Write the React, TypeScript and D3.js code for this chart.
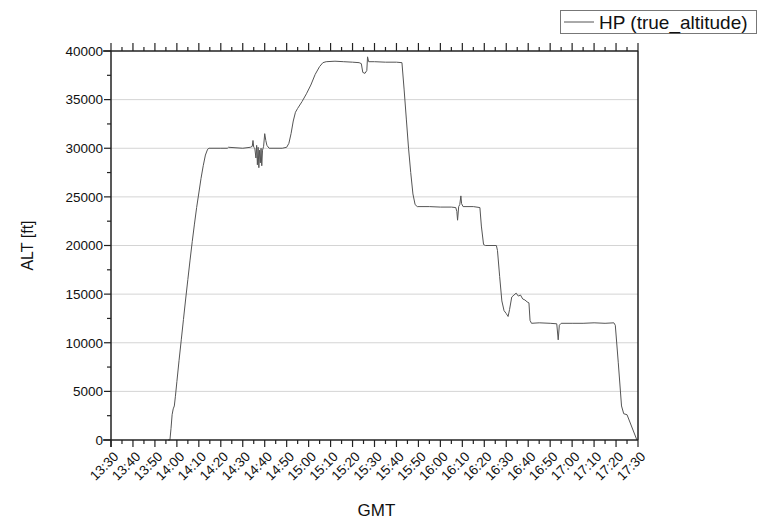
import React from "react";
import * as d3 from "d3";

const gmt: string[] = [
  "13:56:00","13:56:50","13:57:20","13:57:50","13:58:20","13:58:50","13:59:20","14:00:00","14:01:00","14:02:00",
  "14:03:00","14:04:00","14:05:00","14:06:00","14:07:00","14:08:00","14:09:00","14:10:00","14:11:00","14:12:00",
  "14:13:00","14:14:00","14:14:40","14:20:00","14:23:00","14:23:30","14:30:00","14:33:30","14:34:20","14:34:40",
  "14:35:00","14:35:30","14:36:00","14:36:20","14:36:40","14:37:00","14:37:20","14:37:40","14:38:00","14:38:20",
  "14:38:40","14:39:00","14:39:30","14:40:00","14:40:30","14:41:00","14:42:00","14:48:00","14:50:00","14:51:00",
  "14:52:00","14:53:00","14:54:00","14:55:00","14:57:00","14:59:00","15:01:00","15:03:00","15:05:00","15:06:30",
  "15:08:00","15:12:00","15:16:00","15:20:00","15:23:00","15:24:00","15:24:40","15:25:40","15:26:30","15:26:50",
  "15:27:20","15:30:00","15:35:00","15:40:00","15:42:30","15:43:30","15:44:30","15:45:30","15:46:30","15:47:30",
  "15:48:30","15:49:30","15:55:00","16:00:00","16:05:00","16:07:00","16:07:30","16:07:50","16:08:20","16:08:50",
  "16:09:20","16:09:40","16:10:20","16:15:00","16:18:00","16:18:40","16:19:40","16:20:30","16:25:30","16:26:00",
  "16:27:00","16:28:00","16:29:00","16:30:00","16:30:50","16:31:30","16:32:30","16:33:30","16:34:30","16:35:30",
  "16:36:30","16:37:30","16:38:30","16:39:30","16:40:20","16:40:50","16:41:30","16:45:00","16:50:00","16:53:00",
  "16:53:40","16:54:10","16:55:00","17:00:00","17:05:00","17:10:00","17:15:00","17:19:00","17:19:40","17:21:00",
  "17:22:30","17:23:30","17:25:00","17:29:30"
];

const trueAltitude: number[] = [
  0,0,1200,2600,3200,3500,4500,6000,8200,10300,
  12400,14500,16500,18500,20400,22200,23900,25400,26900,28200,
  29300,29900,30000,30000,30000,30100,30000,30100,30200,30800,
  30100,30000,29000,30300,28300,30100,28000,29800,28500,30000,
  28200,29800,30200,31500,30800,30300,30000,30000,30100,30500,
  31500,32800,33700,34100,34800,35600,36500,37600,38400,38800,
  38900,38950,38900,38850,38800,38700,37800,37700,38000,39400,
  38900,38900,38850,38850,38800,36000,33000,30000,27500,25300,
  24200,24000,24000,23950,23950,23900,23500,22600,24000,24200,
  25100,24300,24000,24000,23900,22000,20100,20000,20000,19500,
  16800,14300,13300,13000,12700,13400,14700,14900,15100,14800,
  14900,14500,14400,14200,14100,12300,12000,12050,12000,11950,
  10300,11800,12000,12000,12000,12050,12000,12050,11800,8000,
  3500,2700,2600,0
];

const xTickLabels: string[] = [
  "13:30","13:40","13:50","14:00","14:10","14:20","14:30","14:40","14:50","15:00","15:10","15:20","15:30",
  "15:40","15:50","16:00","16:10","16:20","16:30","16:40","16:50","17:00","17:10","17:20","17:30"
];

const yTicks: number[] = [0, 5000, 10000, 15000, 20000, 25000, 30000, 35000, 40000];

const seriesName = "HP (true_altitude)";

const parse = d3.timeParse("%H:%M:%S");
const parseHM = d3.timeParse("%H:%M");

export default function App() {
  const W = 759, H = 522;
  const left = 111, right = 638, top = 51, bottom = 440;
  const font = "Liberation Sans, Arial, sans-serif";

  const x = d3.scaleTime()
    .domain([parseHM("13:30") as Date, parseHM("17:30") as Date])
    .range([left, right]);
  const y = d3.scaleLinear().domain([0, 40000]).range([bottom, top]);

  const data = gmt.map((t, i) => ({ t: parse(t) as Date, v: trueAltitude[i] }));
  const line = d3.line<{ t: Date; v: number }>().x(d => x(d.t)).y(d => y(d.v));

  const majorX = xTickLabels.map(s => parseHM(s) as Date);
  const minorX = d3.timeMinute.every(5)!.range(parseHM("13:30") as Date, parseHM("17:30") as Date)
    .filter(d => d.getMinutes() % 10 === 5);
  const minorY = d3.range(2500, 40000, 5000);
  const axisColor = "#222";

  return (
    <svg width={W} height={H} style={{ position: "absolute", left: 0, top: 0, background: "#fff" }}>
      <rect x={0} y={0} width={W} height={H} fill="#fff" />
      {yTicks.filter(v => v > 0 && v < 40000).map(v => (
        <line key={"g" + v} x1={left} x2={right} y1={y(v)} y2={y(v)} stroke="#d4d4d4" strokeWidth={1} />
      ))}
      <path d={line(data) || ""} fill="none" stroke="#555" strokeWidth={1} />
      <line x1={left} x2={left} y1={top} y2={bottom + 7} stroke={axisColor} strokeWidth={1.5} />
      <line x1={right} x2={right} y1={top} y2={bottom} stroke={axisColor} strokeWidth={1.5} />
      <line x1={left - 8} x2={right} y1={bottom} y2={bottom} stroke={axisColor} strokeWidth={1.5} />
      <line x1={left - 8} x2={right} y1={top} y2={top} stroke={axisColor} strokeWidth={1.5} />
      {yTicks.map(v => (
        <g key={"yt" + v}>
          <line x1={left - 7} x2={left} y1={y(v)} y2={y(v)} stroke={axisColor} strokeWidth={1.2} />
          <text x={left - 8} y={y(v)} dy="0.36em" textAnchor="end" fontFamily={font} fontSize={13.5} fill="#111">{v}</text>
        </g>
      ))}
      {minorY.map(v => (
        <line key={"ym" + v} x1={left - 4} x2={left} y1={y(v)} y2={y(v)} stroke={axisColor} strokeWidth={1.2} />
      ))}
      {majorX.map((d, i) => (
        <g key={"xt" + i}>
          <line x1={x(d)} x2={x(d)} y1={bottom} y2={bottom + 7} stroke={axisColor} strokeWidth={1.2} />
          <line x1={x(d)} x2={x(d)} y1={top} y2={top - 8} stroke={axisColor} strokeWidth={1.2} />
          <text transform={`translate(${x(d) + 5},${bottom + 14}) rotate(-45)`} textAnchor="end" dy="0.35em"
            fontFamily={font} fontSize={13.5} fill="#111">{xTickLabels[i]}</text>
        </g>
      ))}
      {minorX.map((d, i) => (
        <g key={"xm" + i}>
          <line x1={x(d)} x2={x(d)} y1={bottom} y2={bottom + 4} stroke={axisColor} strokeWidth={1.2} />
          <line x1={x(d)} x2={x(d)} y1={top} y2={top - 4} stroke={axisColor} strokeWidth={1.2} />
        </g>
      ))}
      <text x={(left + right) / 2 + 2} y={516} textAnchor="middle" fontFamily={font} fontSize={17} fill="#111">GMT</text>
      <text transform={`translate(33,${(top + bottom) / 2}) rotate(-90)`} textAnchor="middle" fontFamily={font} fontSize={16} fill="#111">ALT [ft]</text>
      <rect x={560.5} y={10.5} width={196} height={23} fill="#fff" stroke="#777" strokeWidth={1} />
      <line x1={564} x2={594} y1={22} y2={22} stroke="#555" strokeWidth={1} />
      <text x={599} y={22} dy="0.36em" fontFamily={font} fontSize={19} fill="#111">{seriesName}</text>
    </svg>
  );
}
